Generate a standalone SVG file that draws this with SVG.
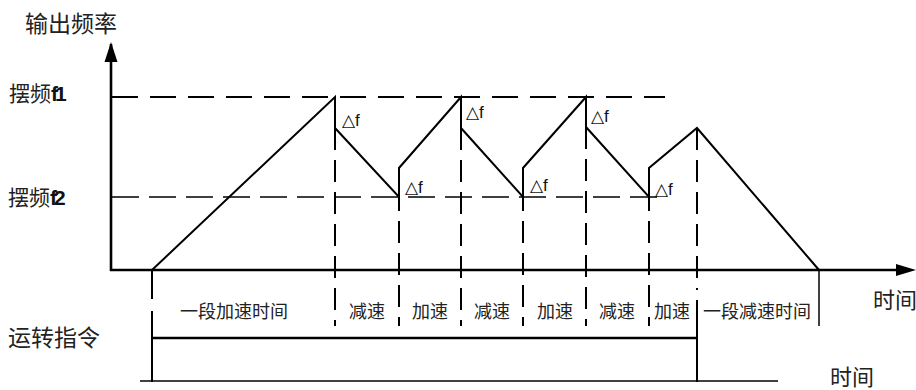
<svg xmlns="http://www.w3.org/2000/svg" width="916" height="390" viewBox="0 0 916 390">
<defs>
<style>
.cn{font-family:"Noto Sans CJK SC","Noto Sans",sans-serif;fill:#222;}
.lat{font-family:"Liberation Sans",Arial,sans-serif;fill:#111;}
.ax{stroke:#000;stroke-width:2.6;fill:none;}
.wave{stroke:#000;stroke-width:2;fill:none;stroke-linejoin:miter;}
.dh1{stroke:#000;stroke-width:2;stroke-dasharray:26 12;fill:none;}
.dh2{stroke:#000;stroke-width:1.3;stroke-dasharray:27 10;fill:none;}
.dv{stroke:#000;stroke-width:2;stroke-dasharray:22 10;fill:none;}
.thin{stroke:#000;stroke-width:1.5;fill:none;}
</style>
</defs>

<g id="axes">
<line class="ax" x1="111" y1="271" x2="111" y2="44"/>
<path d="M111,42 L104.5,62 L117.5,62 Z" fill="#000"/>
<line class="ax" x1="110" y1="270" x2="900" y2="270"/>
<path d="M916,270 L896,264 L896,276 Z" fill="#000"/>
</g>

<g id="connectors">
<line class="dh1" x1="112" y1="97" x2="665" y2="97"/>
<line class="dh2" x1="112" y1="197" x2="665" y2="197"/>
<polyline class="wave" points="152,270 335,97 335,128 399,197 399,168 461,97 461,128 523,197 523,168 586,97 586,127 649,197 649,168 697,128 819,270"/>
<line class="dv" x1="335" y1="128" x2="335" y2="326"/>
<line class="dv" x1="399" y1="197" x2="399" y2="326" stroke-dashoffset="8"/>
<line class="dv" x1="461" y1="128" x2="461" y2="326"/>
<line class="dv" x1="523" y1="197" x2="523" y2="326" stroke-dashoffset="8"/>
<line class="dv" x1="586" y1="127" x2="586" y2="326"/>
<line class="dv" x1="649" y1="197" x2="649" y2="326" stroke-dashoffset="8"/>
<line class="dv" x1="697" y1="128" x2="697" y2="290"/>
<line stroke="#000" stroke-width="2" x1="697" y1="300" x2="697" y2="382"/>
<line stroke="#000" stroke-width="2" x1="152" y1="270" x2="152" y2="299"/>
<line stroke="#000" stroke-width="2" x1="152" y1="311" x2="152" y2="382"/>
<line stroke="#000" stroke-width="1.5" x1="819" y1="270" x2="819" y2="326"/>
<line stroke="#000" stroke-width="2.6" x1="152" y1="338" x2="697" y2="338"/>
<line class="thin" x1="140" y1="381" x2="778" y2="381"/>
</g>

<g id="labels">
<text class="cn" x="25" y="32" font-size="23">输出频率</text>
<text class="cn" x="9" y="101" font-size="21">摆频<tspan class="lat" font-weight="bold" letter-spacing="-3">f1</tspan></text>
<text class="cn" x="8" y="205" font-size="21">摆频<tspan class="lat" font-weight="bold" letter-spacing="-3">f2</tspan></text>
<text class="cn" x="8" y="346" font-size="23">运转指令</text>
<text class="cn" x="873" y="308" font-size="22">时间</text>
<text class="cn" x="830" y="385" font-size="22">时间</text>
</g>

<g id="delta">
<text class="lat" x="342" y="126" font-size="17">△f</text>
<text class="lat" x="405" y="193" font-size="17">△f</text>
<text class="lat" x="466" y="118" font-size="17">△f</text>
<text class="lat" x="530" y="191" font-size="17">△f</text>
<text class="lat" x="591" y="122" font-size="17">△f</text>
<text class="lat" x="655" y="195" font-size="17">△f</text>
</g>

<g id="phases">
<text class="cn" x="234" y="318" font-size="18" text-anchor="middle">一段加速时间</text>
<text class="cn" x="367" y="318" font-size="18" text-anchor="middle">减速</text>
<text class="cn" x="430" y="318" font-size="18" text-anchor="middle">加速</text>
<text class="cn" x="492" y="318" font-size="18" text-anchor="middle">减速</text>
<text class="cn" x="555" y="318" font-size="18" text-anchor="middle">加速</text>
<text class="cn" x="617" y="318" font-size="18" text-anchor="middle">减速</text>
<text class="cn" x="672" y="318" font-size="18" text-anchor="middle">加速</text>
<text class="cn" x="757" y="318" font-size="18" text-anchor="middle">一段减速时间</text>
</g>
</svg>
